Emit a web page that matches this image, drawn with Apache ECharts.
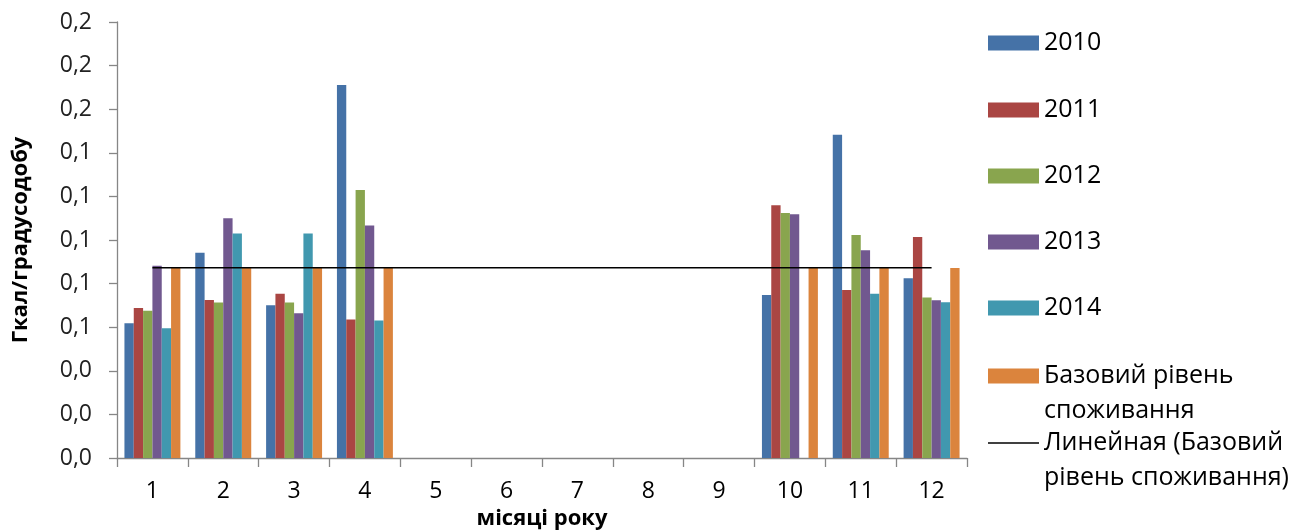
<!DOCTYPE html>
<html>
<head>
<meta charset="utf-8">
<script src="https://cdn.jsdelivr.net/npm/echarts@6/dist/echarts.min.js"></script>
<style>html,body{margin:0;padding:0;background:#fff}#chart{width:1306px;height:532px}</style>
</head>
<body>
<div id="chart"></div>
<script>
const months = ['1','2','3','4','5','6','7','8','9','10','11','12'];
const yTickLabels = ['0,0','0,0','0,0','0,1','0,1','0,1','0,1','0,1','0,2','0,2','0,2'];
const s2010 = [0.0618, 0.0942, 0.0701, 0.1711, null, null, null, null, null, 0.0748, 0.1483, 0.0824];
const s2011 = [0.0688, 0.0725, 0.0753, 0.0635, null, null, null, null, null, 0.1159, 0.0771, 0.1014];
const s2012 = [0.0676, 0.0713, 0.0713, 0.1229, null, null, null, null, null, 0.1124, 0.1023, 0.0736];
const s2013 = [0.0882, 0.1100, 0.0664, 0.1067, null, null, null, null, null, 0.1118, 0.0953, 0.0724];
const s2014 = [0.0595, 0.1030, 0.1030, 0.0631, null, null, null, null, null, null, 0.0754, 0.0714];
const sBase = [0.0873, 0.0873, 0.0873, 0.0873, null, null, null, null, null, 0.0873, 0.0873, 0.0872];
const barNames = ['2010','2011','2012','2013','2014','Базовий рівень споживання'];
const trendName = 'Линейная (Базовий рівень споживання)';
const colors = ['#4572A7','#AA4643','#89A54E','#71588F','#4198AF','#DB843D'];

// linear trendline (least squares) of the base level series
function trend(vals) {
  const pts = vals.map((v, i) => [i + 1, v]).filter(p => p[1] != null);
  const n = pts.length;
  const sx = pts.reduce((a, p) => a + p[0], 0), sy = pts.reduce((a, p) => a + p[1], 0);
  const sxx = pts.reduce((a, p) => a + p[0] * p[0], 0), sxy = pts.reduce((a, p) => a + p[0] * p[1], 0);
  const b = (n * sxy - sx * sy) / (n * sxx - sx * sx);
  const a = (sy - b * sx) / n;
  return vals.map((v, i) => a + b * (i + 1));
}
const sTrend = trend(sBase);

const FONT = '"Open Sans", "Noto Sans", sans-serif';
const allData = [s2010, s2011, s2012, s2013, s2014, sBase];

const series = barNames.map((name, i) => ({
  name, type: 'bar', data: allData[i],
  barGap: '0%', barCategoryGap: '21%',
  itemStyle: { color: colors[i] }
}));
series.push({
  name: trendName, type: 'line', data: sTrend, symbol: 'none',
  lineStyle: { color: '#000', width: 1.5 }, itemStyle: { color: '#000' }, z: 5
});

// legend entries: each placed individually
const legendCenters = [43, 110, 176, 242, 308, 376, 443];
const legendNames = barNames.concat([trendName]);
const legendLabels = ['2010','2011','2012','2013','2014','Базовий рівень\nспоживання','Линейная (Базовий\nрівень споживання)'];
const legends = legendNames.map((name, i) => {
  const twoLine = legendLabels[i].indexOf('\n') >= 0;
  const isLine = i === 6;
  const lg = {
    data: [ { name, icon: 'rect' } ],
    orient: 'vertical',
    left: 988,
    top: legendCenters[i] - (twoLine ? 52.5 : 17.5),
    padding: 0,
    itemWidth: 51, itemHeight: isLine ? 1.5 : 15,
    selectedMode: false,
    formatter: () => (twoLine ? '\n' : '') + legendLabels[i],
    textStyle: { fontFamily: FONT, fontSize: 25, color: '#000', lineHeight: 35 }
  };
  if (isLine) lg.itemStyle = { color: '#000', borderWidth: 0 };
  return lg;
});

const chart = echarts.init(document.getElementById('chart'), null, { renderer: 'canvas' });
chart.setOption({
  animation: false,
  backgroundColor: '#fff',
  color: colors,
  legend: legends,
  grid: { left: 117, right: 339, top: 22, bottom: 74, containLabel: false, outerBoundsMode: 'none' },
  xAxis: {
    type: 'category', data: months,
    name: 'місяці року', nameLocation: 'middle', nameGap: 50,
    nameTextStyle: { fontFamily: FONT, fontSize: 22, fontWeight: 'bold', color: '#000' },
    axisLine: { lineStyle: { color: '#868686', width: 1.3 } },
    axisTick: { show: true, length: 9, lineStyle: { color: '#868686', width: 1.3 } },
    axisLabel: { fontFamily: FONT, fontSize: 23, color: '#000', margin: 22, interval: 0 }
  },
  yAxis: {
    type: 'value', min: 0, max: 0.2, interval: 0.02,
    name: 'Гкал/градусодобу', nameLocation: 'middle', nameGap: 85, nameRotate: 90,
    nameTextStyle: { fontFamily: FONT, fontSize: 22, fontWeight: 'bold', color: '#000' },
    axisLine: { show: true, lineStyle: { color: '#868686', width: 1.3 } },
    axisTick: { show: true, length: 8, lineStyle: { color: '#868686', width: 1.3 } },
    splitLine: { show: false },
    axisLabel: { fontFamily: FONT, fontSize: 23, color: '#222', margin: 25,
      formatter: (v, idx) => yTickLabels[idx] }
  },
  series
});
</script>
</body>
</html>
